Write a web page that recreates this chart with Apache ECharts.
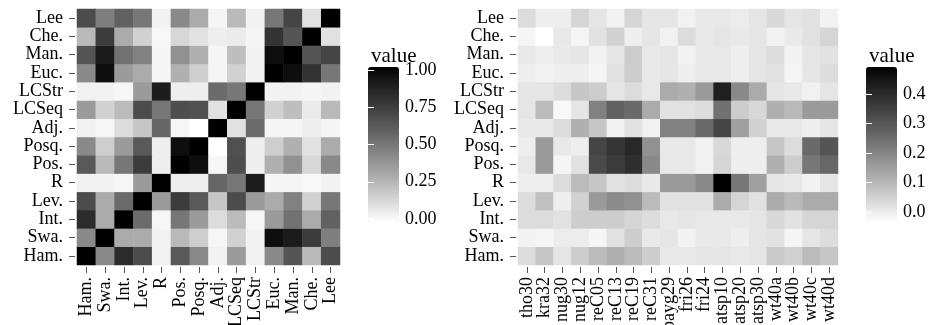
<!DOCTYPE html>
<html><head><meta charset="utf-8">
<script src="https://cdn.jsdelivr.net/npm/echarts@6/dist/echarts.min.js"></script>
<style>html,body{margin:0;padding:0;background:#fff}#c{width:929px;height:325px}</style>
</head><body><div id="c"></div>
<script>
// categories (bottom -> top on the y axis, left -> right on the x axis)
const measures = ['Ham.','Swa.','Int.','Lev.','R','Pos.','Posq.','Adj.','LCSeq','LCStr','Euc.','Man.','Che.','Lee'];
const instances = ['tho30','kra32','nug30','nug12','reC05','reC13','reC19','reC31','bayg29','fri26','fri24','atsp10','atsp20','atsp30','wt40a','wt40b','wt40c','wt40d'];

// left panel: similarity between measures (one array per y row)
const simHam   = [1, .43, .82, .68, .05, .62, .43, .05, .36, .05, .43, .64, .25, .68];
const simSwa   = [.43, 1, .30, .30, .045, .25, .17, .03, .16, .045, .95, .90, .75, .47];
const simInt   = [.82, .30, 1, .55, .03, .50, .36, .12, .24, .03, .36, .52, .30, .59];
const simLev   = [.68, .30, .55, 1, .36, .75, .62, .20, .68, .36, .30, .46, .16, .50];
const simR     = [.05, .045, .03, .36, 1, .06, .06, .57, .50, .89, .035, .035, .025, .045];
const simPos   = [.62, .25, .50, .75, .06, 1, .95, .03, .67, .06, .28, .40, .14, .43];
const simPosq  = [.43, .17, .36, .62, .06, .95, 1, 0, .66, .06, .17, .28, .10, .30];
const simAdj   = [.05, .03, .12, .20, .57, .03, 0, 1, .105, .55, .035, .035, .06, .035];
const simLCSeq = [.36, .16, .24, .68, .50, .67, .66, .105, 1, .50, .16, .23, .07, .25];
const simLCStr = [.05, .045, .03, .36, .89, .06, .06, .55, .50, 1, .045, .045, .035, .045];
const simEuc   = [.43, .95, .36, .30, .035, .28, .17, .035, .16, .045, 1, .95, .785, .50];
const simMan   = [.64, .90, .52, .46, .035, .40, .28, .035, .23, .045, .95, 1, .64, .71];
const simChe   = [.25, .75, .30, .16, .025, .14, .10, .06, .07, .035, .785, .64, 1, .105];
const simLee   = [.68, .47, .59, .50, .045, .43, .30, .035, .25, .045, .50, .71, .105, 1];

// right panel: value per measure (row) and instance (column)
const insHam   = [.028, .070, .012, .057, .091, .112, .091, .057, .007, .007, .012, .012, .007, .012, .065, .049, .091, .070];
const insSwa   = [-.011, -.017, -.001, -.001, -.017, .020, .057, .004, .012, -.011, .007, .007, -.004, .012, .020, -.017, .012, .028];
const insInt   = [.028, .028, .020, .057, .057, .057, .041, .028, .007, .012, .007, .007, .007, .012, .036, .020, .041, .041];
const insLev   = [.028, .081, -.004, .049, .157, .188, .175, .091, .020, .020, .020, .123, .041, .020, .123, .096, .123, .123];
const insR     = [-.004, -.004, .028, .091, .070, .020, .028, .004, .157, .157, .191, .490, .228, .144, .012, .007, -.011, .012];
const insPos   = [.007, .157, -.017, .020, .325, .359, .390, .191, .007, .007, -.009, .041, -.004, -.004, .112, .057, .228, .262];
const insPosq  = [-.004, .157, .007, -.004, .338, .377, .406, .175, .007, .007, -.009, .036, -.004, -.004, .070, .028, .254, .301];
const insAdj   = [.004, .004, .028, .112, .070, -.011, .020, -.009, .207, .207, .254, .338, .144, .049, .007, .007, -.004, .012];
const insLCSeq = [.012, .091, -.022, .012, .207, .275, .254, .123, .020, .020, .028, .241, .057, .036, .112, .096, .157, .157];
const insLCStr = [.012, .012, .028, .070, .057, .012, .028, .007, .123, .112, .157, .424, .191, .123, .012, .007, -.009, .012];
const insEuc   = [-.004, -.011, -.004, -.004, -.017, .020, .057, .004, .012, -.004, .007, .007, -.004, .012, .020, -.017, .012, .028];
const insMan   = [.004, -.004, .004, .012, -.011, .012, .057, .004, .012, -.011, .007, .007, -.004, .012, .028, -.011, .012, .020];
const insChe   = [-.017, -.035, .007, -.017, .020, .049, -.004, .012, -.009, .028, .007, .012, .007, .012, -.011, .004, .020, .041];
const insLee   = [.028, -.004, -.004, .041, .012, -.011, .041, .012, .012, -.009, .007, .007, -.001, .012, .036, .012, .020, -.011];

// colour-bar tick values
const simTicks = [0, 0.25, 0.5, 0.75, 1];
const insTicks = [0, 0.1, 0.2, 0.3, 0.4];
const simRange = [0, 1];
const insRange = [-0.035, 0.49];

const simRows = [simHam, simSwa, simInt, simLev, simR, simPos, simPosq, simAdj, simLCSeq, simLCStr, simEuc, simMan, simChe, simLee];
const insRows = [insHam, insSwa, insInt, insLev, insR, insPos, insPosq, insAdj, insLCSeq, insLCStr, insEuc, insMan, insChe, insLee];
const toCells = rows => { const out = []; rows.forEach((r, yi) => r.forEach((v, xi) => out.push([xi, yi, v]))); return out; };

const font = 'Liberation Serif';
const txt = '#000';
const tickCol = '#555';
// white -> black, interpolated in lightness (L* 100 .. 0)
const grays = ['#ffffff','#e2e2e2','#c6c6c6','#ababab','#919191','#777777','#5e5e5e','#474747','#303030','#1b1b1b','#000000'];

function catX(gi, data) {
  return {type:'category', gridIndex:gi, data, position:'bottom', offset:2,
    axisLine:{show:false}, splitLine:{show:false},
    axisTick:{show:true, alignWithLabel:true, length:6, lineStyle:{color:tickCol, width:1}},
    axisLabel:{interval:0, rotate:90, margin:10, fontFamily:font, fontSize:18, color:txt}};
}
function catY(gi, data) {
  return {type:'category', gridIndex:gi, data, position:'left', offset:2,
    axisLine:{show:false}, splitLine:{show:false},
    axisTick:{show:true, alignWithLabel:true, length:6, lineStyle:{color:tickCol, width:1}},
    axisLabel:{interval:0, margin:12, fontFamily:font, fontSize:18, color:txt}};
}
function barAxis(gi, ticks, side, digits) {
  return {type:'value', gridIndex:gi, min:ticks[0], max:ticks[ticks.length-1],
    interval:ticks[1]-ticks[0], position:side, z:10,
    axisLine:{show:false}, splitLine:{show:false},
    axisTick:{show:true, inside:true, length:6, lineStyle:{color:'#fff', width:1}},
    axisLabel:{show: side === 'right', margin:6, fontFamily:font, fontSize:18, color:txt,
      formatter: v => v.toFixed(digits)}};
}
function vm(si, range, left) {
  return {type:'continuous', seriesIndex:si, min:range[0], max:range[1], left, top:67,
    orient:'vertical', itemWidth:31, itemHeight:155, calculable:false, padding:0,
    hoverLink:false, inRange:{color:grays}, textStyle:{color:'transparent'}, text:['','']};
}

const chart = echarts.init(document.getElementById('c'), null, {renderer:'canvas'});
chart.setOption({
  animation:false,
  backgroundColor:'#fff',
  title:[
    {text:'value', left:366, top:41, textStyle:{fontFamily:font, fontSize:21, fontWeight:'normal', color:txt}},
    {text:'value', left:864, top:41, textStyle:{fontFamily:font, fontSize:21, fontWeight:'normal', color:txt}}
  ],
  grid:[
    {left:77, top:9, width:263, height:256, outerBoundsMode:'none', containLabel:false},
    {left:518, top:9, width:320, height:256, outerBoundsMode:'none', containLabel:false},
    {left:368, top:70, width:31, height:149, outerBoundsMode:'none', containLabel:false},
    {left:866, top:94, width:31, height:118.3, outerBoundsMode:'none', containLabel:false}
  ],
  xAxis:[
    catX(0, measures), catX(1, instances),
    {type:'value', gridIndex:2, show:false, min:0, max:1},
    {type:'value', gridIndex:3, show:false, min:0, max:1}
  ],
  yAxis:[
    catY(0, measures), catY(1, measures),
    barAxis(2, simTicks, 'right', 2), barAxis(2, simTicks, 'left', 2),
    barAxis(3, insTicks, 'right', 1), barAxis(3, insTicks, 'left', 1)
  ],
  visualMap:[ vm(0, simRange, 368), vm(1, insRange, 866) ],
  series:[
    {type:'heatmap', xAxisIndex:0, yAxisIndex:0, data:toCells(simRows), itemStyle:{borderWidth:0}, emphasis:{disabled:true}, progressive:0},
    {type:'heatmap', xAxisIndex:1, yAxisIndex:1, data:toCells(insRows), itemStyle:{borderWidth:0}, emphasis:{disabled:true}, progressive:0}
  ]
});
</script></body></html>
